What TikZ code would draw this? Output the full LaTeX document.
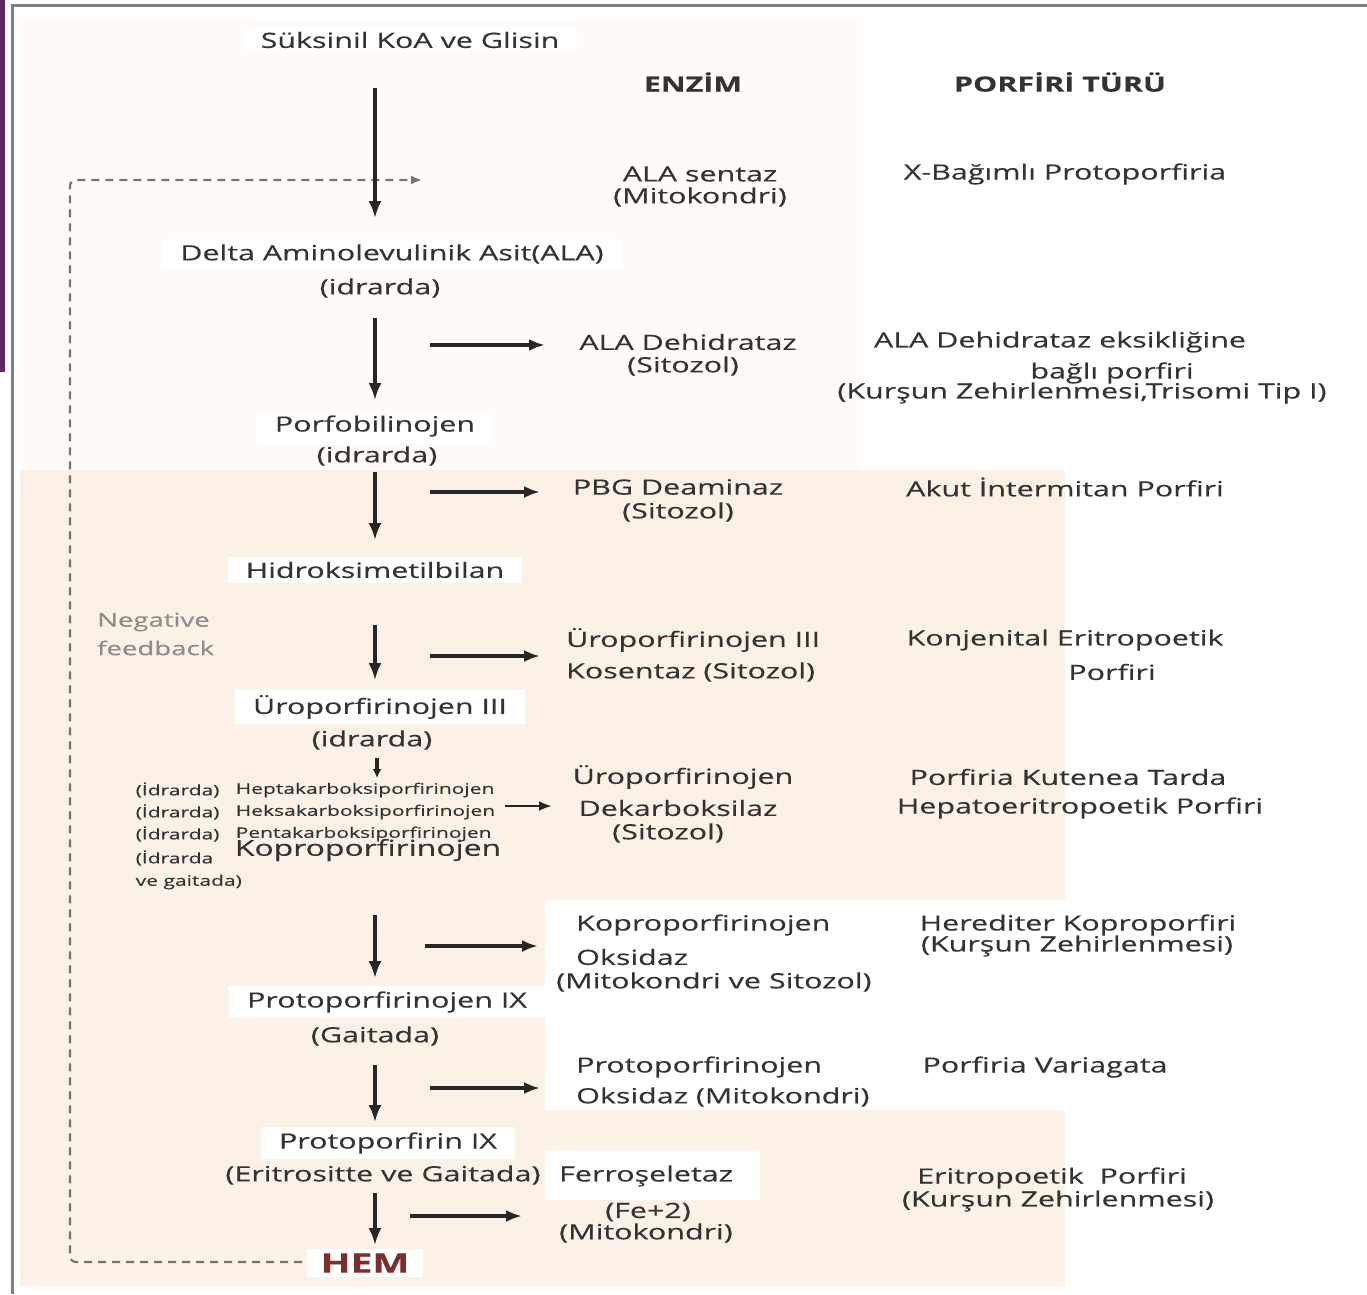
\documentclass[tikz,border=0pt]{standalone}
\usepackage{fontspec}
\setmainfont{Open Sans}[FakeStretch=1.45, FakeBold=0.35]
\usetikzlibrary{arrows.meta}
\definecolor{tc}{HTML}{333333}
\definecolor{peachA}{HTML}{FEFBF8}
\definecolor{peachB}{HTML}{FBF1E6}
\definecolor{barpurple}{HTML}{5A2B5C}
\definecolor{hemred}{HTML}{7A2E2E}
\definecolor{fbgray}{HTML}{8C8C8C}
\begin{document}
\begin{tikzpicture}[x=1pt,y=-1pt,
  t/.style={text=tc, inner sep=1pt, font=\fontsize{21}{24}\selectfont},
  tw/.style={t, anchor=west},
  mn/.style={t, fill=white, inner xsep=18pt, inner ysep=5pt},
  sm/.style={text=tc, inner sep=0.5pt, anchor=west, font=\fontsize{14.5}{16}\selectfont},
  hd/.style={text=tc, inner sep=1pt, font=\fontsize{21}{24}\selectfont\bfseries},
  va/.style={draw=black!85, line width=3.2pt, -{Latex[length=17pt,width=13pt]}},
  ha/.style={draw=black!85, line width=3.2pt, -{Latex[length=16pt,width=12pt]}},
  fb/.style={draw=black!55, line width=2.2pt, dash pattern=on 8pt off 6pt, -{Latex[length=11pt,width=9pt]}},
]
\useasboundingbox (0,0) rectangle (1367,1294);
% background
\fill[white] (0,0) rectangle (1367,1294);
\fill[peachA] (20,20) rectangle (860,470);
\fill[peachB] (20,470) rectangle (1065,1286);
\fill[white] (545,900) rectangle (1065,1110);
\fill[white] (545,1150) rectangle (760,1200);
\fill[barpurple] (0,0) rectangle (5,372);
\draw[gray, line width=3pt] (12,1294) -- (12,5) -- (1367,5);

% main column
\node[mn] (suk) at (410,40) {Süksinil KoA ve Glisin};
\node[hd] (hEnz) at (693,82) {ENZİM};
\node[hd] (hPor) at (1060,82) {PORFİRİ TÜRÜ};
\node[mn] (ala1) at (392,254) {Delta Aminolevulinik Asit(ALA)};
\node[t] (ala2) at (380,288) {(idrarda)};
\node[mn] (pbg1) at (375,426) {Porfobilinojen};
\node[t] (pbg2) at (377,456) {(idrarda)};
\node[mn] (hmb) at (375,570) {Hidroksimetilbilan};
\node[mn] (uro1) at (380,707) {Üroporfirinojen III};
\node[t] (uro2) at (372,740) {(idrarda)};
\node[sm] (id1) at (135,790) {(İdrarda)};
\node[sm] (hep) at (235,790) {Heptakarboksiporfirinojen};
\node[sm] (id2) at (135,812) {(İdrarda)};
\node[sm] (hek) at (235,812) {Heksakarboksiporfirinojen};
\node[sm] (id3) at (135,834) {(İdrarda)};
\node[sm] (pen) at (235,834) {Pentakarboksiporfirinojen};
\node[sm] (id4) at (135,858) {(İdrarda};
\node[sm] (id5) at (135,882) {ve gaitada)};
\node[text=tc, inner sep=1pt, font=\fontsize{22}{24}\selectfont] (kopro) at (368,850) {Koproporfirinojen};
\node[mn] (ppg1) at (387,1002) {Protoporfirinojen IX};
\node[t] (ppg2) at (375,1036) {(Gaitada)};
\node[mn] (pp1) at (388,1143) {Protoporfirin IX};
\node[t] (pp2) at (383,1175) {(Eritrositte ve Gaitada)};
\node[text=hemred, fill=white, inner xsep=14pt, inner ysep=4pt, font=\fontsize{27}{30}\selectfont\bfseries] (hem) at (365,1263) {HEM};
\node[text=fbgray, inner sep=1pt, anchor=west, font=\fontsize{19}{21}\selectfont] (neg1) at (96,622) {Negative};
\node[text=fbgray, inner sep=1pt, anchor=west, font=\fontsize{19}{21}\selectfont] (neg2) at (96,648) {feedback};

% enzymes
\node[t] (e1a) at (700,174) {ALA sentaz};
\node[t] (e1b) at (700,197) {(Mitokondri)};
\node[t] (e2a) at (688,342) {ALA Dehidrataz};
\node[t] (e2b) at (683,366) {(Sitozol)};
\node[t] (e3a) at (678,487) {PBG Deaminaz};
\node[t] (e3b) at (678,512) {(Sitozol)};
\node[tw] (e4a) at (565,640) {Üroporfirinojen III};
\node[tw] (e4b) at (565,672) {Kosentaz (Sitozol)};
\node[t] (e5a) at (683,777) {Üroporfirinojen};
\node[t] (e5b) at (678,808) {Dekarboksilaz};
\node[t] (e5c) at (668,833) {(Sitozol)};
\node[tw] (e6a) at (575,925) {Koproporfirinojen};
\node[tw] (e6b) at (575,957) {Oksidaz};
\node[tw] (e6c) at (555,982) {(Mitokondri ve Sitozol)};
\node[tw] (e7a) at (575,1067) {Protoporfirinojen};
\node[tw] (e7b) at (575,1097) {Oksidaz (Mitokondri)};
\node[tw] (e8a) at (558,1176) {Ferroşeletaz};
\node[t] (e8b) at (648,1212) {(Fe+2)};
\node[t] (e8c) at (646,1233) {(Mitokondri)};

% porphyrias
\node[t] (p1) at (1065,174) {X-Bağımlı Protoporfiria};
\node[t] (p2a) at (1060,342) {ALA Dehidrataz eksikliğine};
\node[t] (p2b) at (1112,373) {bağlı porfiri};
\node[t] (p2c) at (1082,393) {(Kurşun Zehirlenmesi,Trisomi Tip I)};
\node[t] (p3) at (1065,487) {Akut İntermitan Porfiri};
\node[t] (p4a) at (1065,640) {Konjenital Eritropoetik};
\node[t] (p4b) at (1112,672) {Porfiri};
\node[t] (p5a) at (1068,777) {Porfiria Kutenea Tarda};
\node[t] (p5b) at (1080,808) {Hepatoeritropoetik Porfiri};
\node[t] (p6a) at (1078,925) {Herediter Koproporfiri};
\node[t] (p6b) at (1077,946) {(Kurşun Zehirlenmesi)};
\node[t] (p7) at (1045,1067) {Porfiria Variagata};
\node[t] (p8a) at (1052,1178) {Eritropoetik\ \ Porfiri};
\node[t] (p8b) at (1058,1201) {(Kurşun Zehirlenmesi)};

% arrow coordinates
\coordinate (v1s) at (375,88);   \coordinate (v1e) at (375,218);
\coordinate (v2s) at (375,318);  \coordinate (v2e) at (375,400);
\coordinate (v3s) at (375,472);  \coordinate (v3e) at (375,540);
\coordinate (v4s) at (375,625);  \coordinate (v4e) at (375,680);
\coordinate (v5s) at (377,758);  \coordinate (v5e) at (377,778);
\coordinate (v6s) at (375,915);  \coordinate (v6e) at (375,978);
\coordinate (v7s) at (375,1065); \coordinate (v7e) at (375,1122);
\coordinate (v8s) at (375,1193); \coordinate (v8e) at (375,1245);
\coordinate (h2s) at (430,345);  \coordinate (h2e) at (545,345);
\coordinate (h3s) at (430,492);  \coordinate (h3e) at (540,492);
\coordinate (h4s) at (430,656);  \coordinate (h4e) at (540,656);
\coordinate (h5s) at (505,806);  \coordinate (h5e) at (552,806);
\coordinate (h6s) at (425,946);  \coordinate (h6e) at (538,946);
\coordinate (h7s) at (430,1088); \coordinate (h7e) at (540,1088);
\coordinate (h8s) at (410,1216); \coordinate (h8e) at (522,1216);
\coordinate (fbA) at (302,1262);
\coordinate (fbB) at (70,1262);
\coordinate (fbC) at (70,180);
\coordinate (fbD) at (422,180);

\draw[fb, rounded corners=6pt] (fbA) -- (fbB) -- (fbC) -- (fbD);
\draw[va] (v1s) -- (v1e);
\draw[va] (v2s) -- (v2e);
\draw[va] (v3s) -- (v3e);
\draw[va] (v4s) -- (v4e);
\draw[draw=black!85, line width=3.5pt, -{Latex[length=9pt,width=9pt]}] (v5s) -- (v5e);
\draw[va] (v6s) -- (v6e);
\draw[va] (v7s) -- (v7e);
\draw[va] (v8s) -- (v8e);
\draw[ha] (h2s) -- (h2e);
\draw[ha] (h3s) -- (h3e);
\draw[ha] (h4s) -- (h4e);
\draw[draw=black!85, line width=2.8pt, -{Latex[length=13pt,width=10pt]}] (h5s) -- (h5e);
\draw[ha] (h6s) -- (h6e);
\draw[ha] (h7s) -- (h7e);
\draw[ha] (h8s) -- (h8e);
\end{tikzpicture}
\end{document}
